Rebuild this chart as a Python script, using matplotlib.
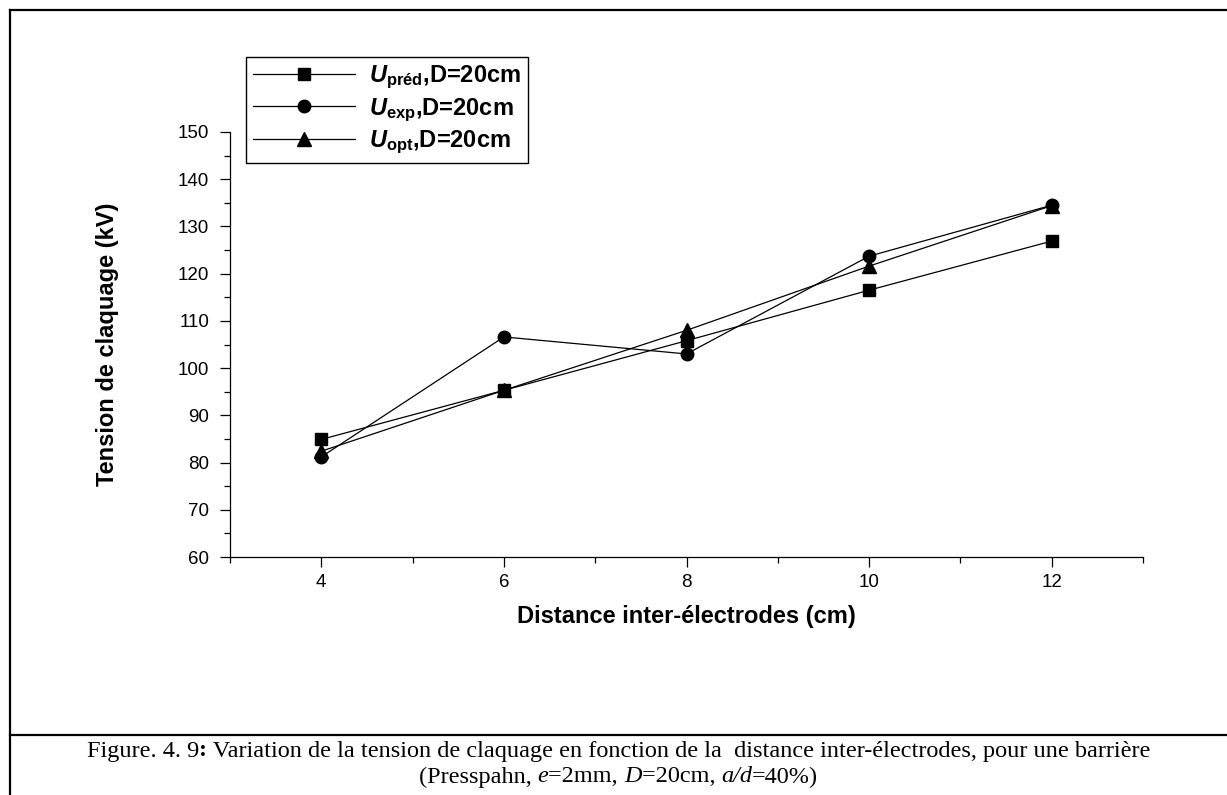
import matplotlib
matplotlib.use("Agg")
import matplotlib.pyplot as plt
from matplotlib.lines import Line2D
from matplotlib.ticker import MultipleLocator

# values
distance = [4, 6, 8, 10, 12]
u_pred = [84.9, 95.3, 105.8, 116.5, 126.9]
u_exp = [81.2, 106.6, 103.0, 123.7, 134.5]
u_opt = [82.4, 95.3, 108.0, 121.6, 134.4]
labels = [
    r"$\mathit{U}_{\mathbf{préd}}$,D=20cm",
    r"$\mathit{U}_{\mathbf{exp}}$,D=20cm",
    r"$\mathit{U}_{\mathbf{opt}}$,D=20cm",
]
caption_1 = [("Figure. 4. 9", "normal", "normal"), (":", "bold", "normal"),
             (" Variation de la tension de claquage en fonction de la  distance inter-électrodes, pour une barrière",
              "normal", "normal")]
caption_2 = [("(Presspahn, ", "normal", "normal"), ("e", "normal", "italic"), ("=2mm, ", "normal", "normal"),
             ("D", "normal", "italic"), ("=20cm, ", "normal", "normal"), ("a/d", "normal", "italic"),
             ("=40%)", "normal", "normal")]

plt.rcParams["font.family"] = ["Liberation Sans", "DejaVu Sans"]
plt.rcParams["mathtext.fontset"] = "custom"
plt.rcParams["mathtext.it"] = "Liberation Sans:italic:bold"
plt.rcParams["mathtext.bf"] = "Liberation Sans:bold"
plt.rcParams["mathtext.rm"] = "Liberation Sans:bold"

W, H = 1227, 795
fig = plt.figure(figsize=(W / 100, H / 100), dpi=100)
ax = fig.add_axes([230 / W, 1 - 557 / H, 913 / W, 425 / H])

ax.plot(distance, u_pred, color="black", lw=0.9, marker="s", ms=8.5, label=labels[0])
ax.plot(distance, u_exp, color="black", lw=0.9, marker="o", ms=9, label=labels[1])
ax.plot(distance, u_opt, color="black", lw=0.9, marker="^", ms=9.5, label=labels[2])

ax.set_xlim(3, 13)
ax.set_ylim(60, 150)
ax.xaxis.set_major_locator(MultipleLocator(2))
ax.xaxis.set_minor_locator(MultipleLocator(1))
ax.yaxis.set_major_locator(MultipleLocator(10))
ax.yaxis.set_minor_locator(MultipleLocator(5))
for s in ("top", "right"):
    ax.spines[s].set_visible(False)
for s in ("left", "bottom"):
    ax.spines[s].set_linewidth(0.9)
ax.tick_params(which="major", direction="out", length=7, width=0.9, labelsize=13.5)
ax.tick_params(which="minor", direction="out", length=4, width=0.9)
ax.tick_params(axis="y", which="major", pad=8)
ax.tick_params(axis="x", which="major", pad=5)

ax.set_xlabel("Distance inter-électrodes (cm)", fontsize=17, fontweight="bold", labelpad=10)
ax.set_ylabel("Tension de claquage (kV)", fontsize=17, fontweight="bold", labelpad=42)

leg = ax.legend(loc="upper left", bbox_to_anchor=(16 / 913, 500 / 425), borderaxespad=0,
                fancybox=False, edgecolor="black", framealpha=1, numpoints=1,
                handlelength=4.3, handletextpad=0.6, labelspacing=0.2,
                borderpad=0.3, prop={"weight": "bold", "size": 17})
leg.get_frame().set_linewidth(1.0)

# page frame around the figure and the caption
fig.add_artist(Line2D([10 / W, 1], [1 - 10 / H] * 2, color="black", lw=1.6))
fig.add_artist(Line2D([10 / W] * 2, [0, 1 - 10 / H], color="black", lw=1.6))
fig.add_artist(Line2D([10 / W, 1], [1 - 735 / H] * 2, color="black", lw=1.6))


def rich_line(pieces, y_px, size=17.5):
    # caption line with mixed bold / italic runs, centred on the page
    renderer = fig.canvas.get_renderer()
    texts, widths = [], []
    for s, weight, style in pieces:
        t = fig.text(0, 1 - y_px / H, s, fontsize=size, fontweight=weight, fontstyle=style,
                     family=["Liberation Serif", "DejaVu Serif"], va="center", ha="left")
        texts.append(t)
        widths.append(t.get_window_extent(renderer).width)
    x = (W + 10) / 2 - sum(widths) / 2
    for t, w in zip(texts, widths):
        t.set_x(x / W)
        x += w


rich_line(caption_1, 751)
rich_line(caption_2, 777)

fig.savefig("out.png", dpi=100)
